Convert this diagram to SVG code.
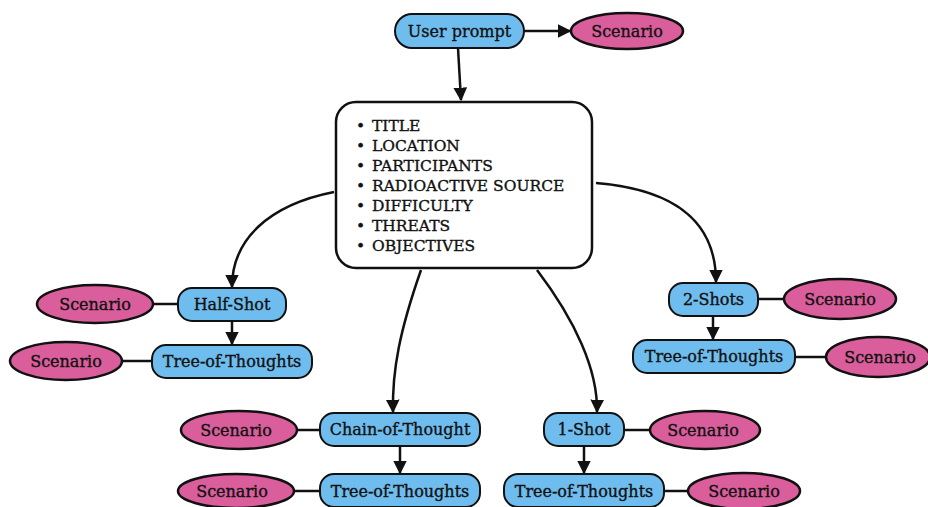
<svg xmlns="http://www.w3.org/2000/svg" width="928" height="507" viewBox="0 0 928 507">
  <style>
    .box { fill: #6fbdef; stroke: #111; stroke-width: 2; }
    .main { fill: #fff; stroke: #111; stroke-width: 2.5; }
    .ell { fill: #d95e9b; stroke: #111; stroke-width: 2.5; }
    .lbl { font-family: "DejaVu Serif", "Liberation Serif", serif; font-size: 16px; fill: #111; stroke: #111; stroke-width: 0.35; text-anchor: middle; dominant-baseline: central; }
    .list { font-family: "DejaVu Serif", "Liberation Serif", serif; font-size: 15.5px; fill: #111; stroke: #111; stroke-width: 0.35; dominant-baseline: central; }
    .edge { fill: none; stroke: #111; stroke-width: 2.5; }
  </style>
  <defs>
    <marker id="arr" viewBox="0 0 10 10" refX="9" refY="5" markerWidth="5.5" markerHeight="5.5" orient="auto" markerUnits="strokeWidth">
      <path d="M0,0 L10,5 L0,10 z" fill="#111"/>
    </marker>
  </defs>
  <rect width="928" height="507" fill="#fff"/>

  <g id="connectors">
    <path class="edge" d="M524,31 L570,31" marker-end="url(#arr)"/>
    <path class="edge" d="M458,48 L461,100" marker-end="url(#arr)"/>
    <path class="edge" d="M334,192 C268,205 232,240 232,287" marker-end="url(#arr)"/>
    <path class="edge" d="M596,183 C680,190 716,225 716,282" marker-end="url(#arr)"/>
    <path class="edge" d="M421,270 C400,330 392,370 393,412" marker-end="url(#arr)"/>
    <path class="edge" d="M537,270 C575,320 598,370 597,412" marker-end="url(#arr)"/>
    <path class="edge" d="M232,320 L232,344" marker-end="url(#arr)"/>
    <path class="edge" d="M713,316 L713,339" marker-end="url(#arr)"/>
    <path class="edge" d="M400,446 L400,473" marker-end="url(#arr)"/>
    <path class="edge" d="M584,446 L584,473" marker-end="url(#arr)"/>
    <path class="edge" d="M153,304 L178,304"/>
    <path class="edge" d="M122,361 L152,361"/>
    <path class="edge" d="M758,299 L784,299"/>
    <path class="edge" d="M795,357 L826,357"/>
    <path class="edge" d="M297,430 L320,430"/>
    <path class="edge" d="M293,491 L320,491"/>
    <path class="edge" d="M624,430 L650,430"/>
    <path class="edge" d="M664,491 L688,491"/>
  </g>

  <g id="user-prompt">
    <rect class="box" x="395" y="14" width="129" height="34" rx="17"/>
    <text class="lbl" x="459.5" y="31">User prompt</text>
  </g>
  <g id="scenario-top">
    <ellipse class="ell" cx="627" cy="31" rx="56" ry="18"/>
    <text class="lbl" x="627" y="31">Scenario</text>
  </g>

  <g id="scenario-spec">
    <rect class="main" x="336" y="102" width="256" height="166" rx="20"/>
    <g class="list">
      <text x="356" y="126">•</text><text x="372" y="126">TITLE</text>
      <text x="356" y="146">•</text><text x="372" y="146">LOCATION</text>
      <text x="356" y="166">•</text><text x="372" y="166">PARTICIPANTS</text>
      <text x="356" y="186">•</text><text x="372" y="186">RADIOACTIVE SOURCE</text>
      <text x="356" y="206">•</text><text x="372" y="206">DIFFICULTY</text>
      <text x="356" y="226">•</text><text x="372" y="226">THREATS</text>
      <text x="356" y="246">•</text><text x="372" y="246">OBJECTIVES</text>
    </g>
  </g>

  <g id="half-shot">
    <rect class="box" x="178" y="288" width="108" height="33" rx="14"/>
    <text class="lbl" x="232" y="304">Half-Shot</text>
  </g>
  <g id="half-shot-scenario">
    <ellipse class="ell" cx="95" cy="304" rx="58" ry="19"/>
    <text class="lbl" x="95" y="304">Scenario</text>
  </g>
  <g id="half-shot-tot">
    <rect class="box" x="152" y="345" width="160" height="33" rx="14"/>
    <text class="lbl" x="232" y="361">Tree-of-Thoughts</text>
  </g>
  <g id="half-shot-tot-scenario">
    <ellipse class="ell" cx="66" cy="361" rx="56" ry="19"/>
    <text class="lbl" x="66" y="361">Scenario</text>
  </g>

  <g id="two-shots">
    <rect class="box" x="669" y="283" width="89" height="33" rx="14"/>
    <text class="lbl" x="713.5" y="299.5">2-Shots</text>
  </g>
  <g id="two-shots-scenario">
    <ellipse class="ell" cx="840" cy="299" rx="56" ry="20"/>
    <text class="lbl" x="840" y="299">Scenario</text>
  </g>
  <g id="two-shots-tot">
    <rect class="box" x="633" y="340" width="162" height="33" rx="14"/>
    <text class="lbl" x="714" y="356.5">Tree-of-Thoughts</text>
  </g>
  <g id="two-shots-tot-scenario">
    <ellipse class="ell" cx="878" cy="357" rx="52" ry="20"/>
    <text class="lbl" x="880" y="357">Scenario</text>
  </g>

  <g id="chain-of-thought">
    <rect class="box" x="320" y="413" width="160" height="33" rx="14"/>
    <text class="lbl" x="400" y="429.5">Chain-of-Thought</text>
  </g>
  <g id="cot-scenario">
    <ellipse class="ell" cx="239" cy="430" rx="58" ry="19"/>
    <text class="lbl" x="236" y="430">Scenario</text>
  </g>
  <g id="cot-tot">
    <rect class="box" x="320" y="474" width="160" height="33" rx="14"/>
    <text class="lbl" x="400" y="491">Tree-of-Thoughts</text>
  </g>
  <g id="cot-tot-scenario">
    <ellipse class="ell" cx="236" cy="491" rx="58" ry="17"/>
    <text class="lbl" x="232" y="491">Scenario</text>
  </g>

  <g id="one-shot">
    <rect class="box" x="544" y="413" width="80" height="33" rx="14"/>
    <text class="lbl" x="584" y="429.5">1-Shot</text>
  </g>
  <g id="one-shot-scenario">
    <ellipse class="ell" cx="705" cy="430" rx="55" ry="19"/>
    <text class="lbl" x="703" y="430">Scenario</text>
  </g>
  <g id="one-shot-tot">
    <rect class="box" x="504" y="474" width="160" height="33" rx="14"/>
    <text class="lbl" x="584" y="491">Tree-of-Thoughts</text>
  </g>
  <g id="one-shot-tot-scenario">
    <ellipse class="ell" cx="744" cy="491" rx="56" ry="18"/>
    <text class="lbl" x="744" y="491">Scenario</text>
  </g>
</svg>
